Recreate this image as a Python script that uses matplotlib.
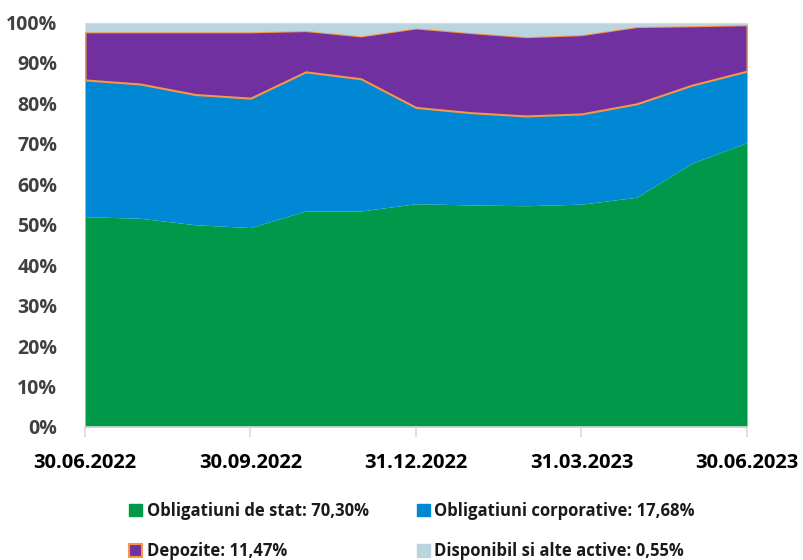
import matplotlib
matplotlib.use("Agg")
import matplotlib.pyplot as plt
from matplotlib.patches import Patch
from matplotlib.ticker import FuncFormatter
import numpy as np

# ---- data ----
dates = ["30.06.2022", "31.07.2022", "31.08.2022", "30.09.2022", "31.10.2022",
         "30.11.2022", "31.12.2022", "31.01.2023", "28.02.2023", "31.03.2023",
         "30.04.2023", "31.05.2023", "30.06.2023"]
tick_labels = ["30.06.2022", "30.09.2022", "31.12.2022", "31.03.2023", "30.06.2023"]
stat = [52.0, 51.6, 50.0, 49.3, 53.4, 53.4, 55.2, 54.9, 54.7, 55.1, 56.8, 65.2, 70.30]
corporative = [33.8, 33.2, 32.2, 32.0, 34.4, 32.7, 23.8, 22.8, 22.2, 22.3, 23.1, 19.3, 17.68]
depozite = [11.9, 12.9, 15.5, 16.4, 10.2, 10.6, 19.65, 19.8, 19.6, 19.6, 19.1, 14.7, 11.47]
disponibil = [2.3, 2.3, 2.3, 2.3, 2.0, 3.3, 1.35, 2.5, 3.5, 3.0, 1.0, 0.8, 0.55]
labels = ["Obligatiuni de stat: 70,30%", "Obligatiuni corporative: 17,68%",
          "Depozite: 11,47%", "Disponibil si alte active: 0,55%"]

plt.rcParams['font.family'] = ['Open Sans', 'DejaVu Sans']

c_green = "#00994A"
c_blue = "#0088D4"
c_purple = "#70309F"
c_light = "#B8D5E0"
c_orange = "#F79646"

fig = plt.figure(figsize=(8.04, 5.60), dpi=100)
ax = fig.add_axes([85/804, 1-427/560, (747-85)/804, (427-22.5)/560])

x = np.arange(len(dates))
series = [np.array(stat), np.array(corporative), np.array(depozite), np.array(disponibil)]
tot = sum(series)
series = [s / tot * 100 for s in series]
c0 = np.zeros(len(x))
c1 = c0 + series[0]
c2 = c1 + series[1]
c3 = c2 + series[2]
c4 = c3 + series[3]

ax.fill_between(x, c0, c1, color=c_green, linewidth=0)
ax.fill_between(x, c1, c2, color=c_blue, linewidth=0)
ax.fill_between(x, c2, c3, facecolor=c_purple, edgecolor=c_orange, linewidth=1.5)
ax.fill_between(x, c3, c4, color=c_light, linewidth=0)

ax.set_xlim(0, len(x)-1)
ax.set_ylim(0, 100)
ax.set_yticks(np.arange(0, 101, 10))
ax.yaxis.set_major_formatter(FuncFormatter(lambda v, p: f"{int(v)}%"))
tick_pos = [dates.index(t) for t in tick_labels]
ax.set_xticks(tick_pos)
ax.set_xticklabels(tick_labels)

for s in ["top", "right", "left"]:
    ax.spines[s].set_visible(False)
ax.spines["bottom"].set_color("#D9D9D9")
ax.spines["bottom"].set_linewidth(1.2)
ax.axhline(100, color="#D9D9D9", lw=1.0, zorder=5)

ax.tick_params(axis="y", length=0, pad=20, labelsize=14, labelcolor="#404040")
ax.tick_params(axis="x", length=7, width=1.2, color="#D9D9D9", pad=12, labelsize=14.5,
               labelcolor="black")
for t in ax.get_yticklabels():
    t.set_fontweight("bold")
for t in ax.get_xticklabels():
    t.set_fontweight("bold")

handles = [Patch(facecolor=c_green, edgecolor=c_green),
           Patch(facecolor=c_purple, edgecolor=c_orange, linewidth=1.5),
           Patch(facecolor=c_blue, edgecolor=c_blue),
           Patch(facecolor=c_light, edgecolor=c_light)]
leg_labels = [labels[0], labels[2], labels[1], labels[3]]
leg = fig.legend(handles, leg_labels, ncol=2, loc="center left",
                 bbox_to_anchor=(114/804, 1-531/560), frameon=False,
                 fontsize=12, handlelength=0.78, handleheight=0.78,
                 handletextpad=0.3, columnspacing=2.85, labelspacing=1.35)
for t in leg.get_texts():
    t.set_fontweight("bold")
    t.set_color("#1a1a1a")

fig.savefig("out.png", dpi=100)
